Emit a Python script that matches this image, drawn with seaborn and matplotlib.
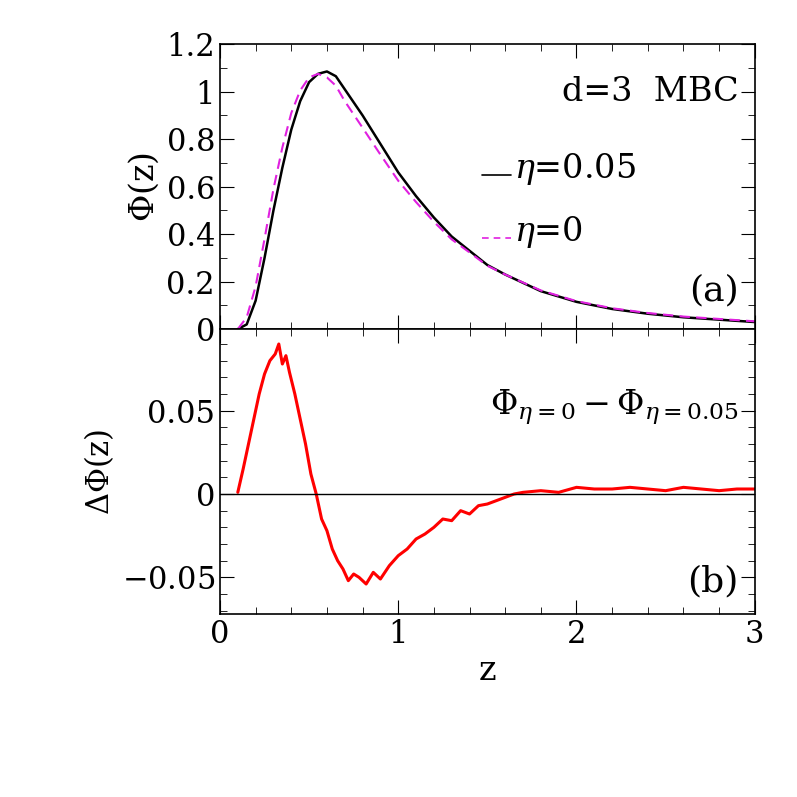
import matplotlib
matplotlib.use("Agg")
import matplotlib.pyplot as plt
import seaborn as sns
from matplotlib.ticker import MultipleLocator

sns.set_style("ticks")
plt.rcParams['font.family'] = ['DejaVu Serif']
plt.rcParams['mathtext.fontset'] = 'dejavuserif'
plt.rcParams['text.color'] = 'black'
plt.rcParams['axes.labelcolor'] = 'black'
plt.rcParams['xtick.color'] = 'black'
plt.rcParams['ytick.color'] = 'black'

z = [0.1,0.15,0.2,0.25,0.3,0.35,0.4,0.45,0.5,0.55,0.6,0.65,0.7,0.8,0.9,1.0,1.1,1.2,1.3,1.4,1.5,1.6,1.8,2.0,2.2,2.4,2.6,2.8,3.0]
phi_eta005 = [0.0,0.02,0.12,0.3,0.5,0.68,0.84,0.96,1.04,1.075,1.085,1.065,1.01,0.9,0.78,0.66,0.56,0.47,0.39,0.33,0.27,0.23,0.16,0.115,0.085,0.065,0.05,0.04,0.03]
phi_eta0 = [0.0,0.05,0.18,0.38,0.59,0.765,0.91,1.005,1.06,1.075,1.06,1.025,0.96,0.848,0.735,0.625,0.535,0.452,0.378,0.323,0.267,0.23,0.163,0.118,0.088,0.068,0.053,0.043,0.033]

dz = [0.1,0.13,0.16,0.19,0.22,0.25,0.28,0.31,0.33,0.35,0.37,0.39,0.42,0.45,0.48,0.51,0.54,0.57,0.6,0.63,0.66,0.69,0.72,0.75,0.78,0.82,0.86,0.9,0.95,1.0,1.05,1.1,1.15,1.2,1.25,1.3,1.35,1.4,1.45,1.5,1.55,1.6,1.65,1.7,1.8,1.9,2.0,2.1,2.2,2.3,2.4,2.5,2.6,2.7,2.8,2.9,3.0]
dphi = [0.001,0.015,0.03,0.045,0.06,0.072,0.08,0.084,0.09,0.078,0.083,0.073,0.06,0.045,0.03,0.012,0.0,-0.015,-0.022,-0.033,-0.04,-0.045,-0.052,-0.048,-0.05,-0.054,-0.047,-0.051,-0.043,-0.037,-0.033,-0.027,-0.024,-0.02,-0.015,-0.016,-0.01,-0.012,-0.007,-0.006,-0.004,-0.002,0.0,0.001,0.002,0.001,0.004,0.003,0.003,0.004,0.003,0.002,0.004,0.003,0.002,0.003,0.003]

fig = plt.figure(figsize=(7.97,7.97), dpi=100)
ax1 = fig.add_axes([0.276,0.587,0.671,0.3576])
ax2 = fig.add_axes([0.276,0.2296,0.671,0.3576], sharex=ax1)

sns.lineplot(x=z, y=phi_eta005, ax=ax1, color='black', lw=1.8)
sns.lineplot(x=z, y=phi_eta0, ax=ax1, color='#e020e0', lw=1.5, linestyle=(0,(5,3)))
sns.lineplot(x=dz, y=dphi, ax=ax2, color='red', lw=2.2)
ax2.axhline(0, color='black', lw=1)

ax1.set_xlim(0,3); ax1.set_ylim(0,1.2)
ax2.set_ylim(-0.072,0.099)
for ax in (ax1, ax2):
    ax.tick_params(direction='in', top=True, right=True, which='both', labelsize=22, length=10)
    ax.tick_params(which='minor', length=5)
    ax.xaxis.set_major_locator(MultipleLocator(1))
    ax.xaxis.set_minor_locator(MultipleLocator(0.2))
    for s in ax.spines.values():
        s.set_linewidth(1.2); s.set_color('black')
ax1.yaxis.set_minor_locator(MultipleLocator(0.1))
ax1.set_yticks([0,0.2,0.4,0.6,0.8,1,1.2], ['0','0.2','0.4','0.6','0.8','1','1.2'])
ax2.yaxis.set_minor_locator(MultipleLocator(0.01))
ax2.set_yticks([-0.05,0,0.05], ['$-$0.05','0','0.05'])
plt.setp(ax1.get_xticklabels(), visible=False)
ax2.set_xticks([0,1,2,3], ['0','1','2','3'])
ax1.set_ylabel(r'$\Phi$(z)', fontsize=24)
ax2.set_ylabel(r'$\Delta\Phi$(z)', fontsize=22)
ax2.set_xlabel('z', fontsize=24)

ax1.text(0.97,0.80,'d=3  MBC', transform=ax1.transAxes, ha='right', fontsize=24)
ax1.plot([0.49,0.545],[0.54,0.54], transform=ax1.transAxes, color='black', lw=1.2)
ax1.text(0.55,0.53,r'$\eta$=0.05', transform=ax1.transAxes, ha='left', fontsize=24)
ax1.plot([0.49,0.545],[0.32,0.32], transform=ax1.transAxes, color='#e020e0', lw=1.2, linestyle=(0,(4,3)))
ax1.text(0.55,0.31,r'$\eta$=0', transform=ax1.transAxes, ha='left', fontsize=24)
ax1.text(0.97,0.1,'(a)', transform=ax1.transAxes, ha='right', fontsize=26)
ax2.text(0.97,0.7,r'$\Phi_{\eta=0}-\Phi_{\eta=0.05}$', transform=ax2.transAxes, ha='right', fontsize=24)
ax2.text(0.97,0.08,'(b)', transform=ax2.transAxes, ha='right', fontsize=26)

fig.savefig('out.png', dpi=100)
